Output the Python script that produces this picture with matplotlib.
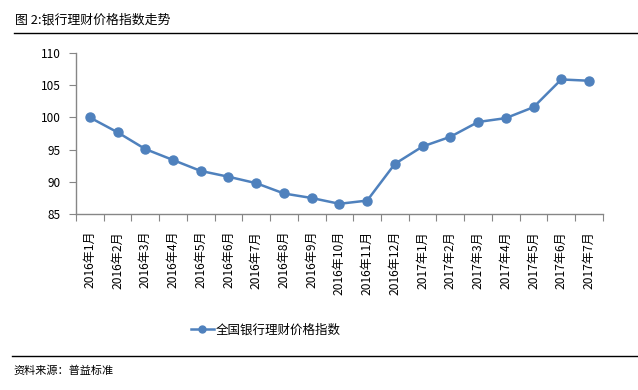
import matplotlib
matplotlib.use("Agg")
import matplotlib.pyplot as plt
from matplotlib.lines import Line2D

plt.rcParams['font.family'] = ['Noto Sans CJK SC', 'DejaVu Sans']

months = ["2016年1月", "2016年2月", "2016年3月", "2016年4月", "2016年5月",
          "2016年6月", "2016年7月", "2016年8月", "2016年9月", "2016年10月",
          "2016年11月", "2016年12月", "2017年1月", "2017年2月", "2017年3月",
          "2017年4月", "2017年5月", "2017年6月", "2017年7月"]
index_values = [100.0, 97.7, 95.1, 93.4, 91.7, 90.8, 89.8, 88.2, 87.5, 86.6,
                87.1, 92.8, 95.5, 97.0, 99.3, 99.9, 101.6, 105.9, 105.7]
y_ticks = [85, 90, 95, 100, 105, 110]
series_name = "全国银行理财价格指数"

blue = "#4F81BD"
grey = "#868686"

fig = plt.figure(figsize=(6.38, 3.9), dpi=100)
ax = fig.add_axes([0.119, 0.451, 0.826, 0.413])

x = list(range(len(months)))
ax.plot(x, index_values, color=blue, lw=1.8, marker="o", markersize=6.5,
        markerfacecolor=blue, markeredgecolor=blue)

ax.set_xlim(-0.5, len(months) - 0.5)
ax.set_ylim(85, 110)
ax.set_yticks(y_ticks)
ax.set_yticklabels([str(v) for v in y_ticks], fontsize=8.5)

# category boundaries as ticks, labels centred between them
ax.set_xticks([i - 0.5 for i in range(len(months) + 1)])
ax.set_xticklabels([])
ax.set_xticks(x, minor=True)
ax.set_xticklabels(months, minor=True, rotation=90, fontsize=8.7)
ax.tick_params(axis="x", which="minor", length=0, pad=12)
ax.tick_params(axis="x", which="major", length=5, color=grey, direction="out")
ax.tick_params(axis="y", length=5, color=grey, direction="out", pad=6)

for s in ["top", "right"]:
    ax.spines[s].set_visible(False)
for s in ["left", "bottom"]:
    ax.spines[s].set_color(grey)
    ax.spines[s].set_linewidth(1.0)

handle = Line2D([0], [0], color=blue, lw=1.8, marker="o", markersize=5)
fig.legend([handle], [series_name], loc="center", bbox_to_anchor=(0.417, 0.153),
           frameon=False, fontsize=9, handlelength=1.8, handletextpad=0.2)

# header and footer
fig.text(0.024, 0.948, "图 2:银行理财价格指数走势", fontsize=9.3, va="center", ha="left")
fig.add_artist(Line2D([0.022, 1.0], [0.915, 0.915], color="black", lw=1.0))
fig.add_artist(Line2D([0.019, 1.0], [0.087, 0.087], color="black", lw=1.0))
fig.text(0.021, 0.049, "资料来源：普益标准", fontsize=8, va="center", ha="left")

fig.savefig("out.png", dpi=100)
